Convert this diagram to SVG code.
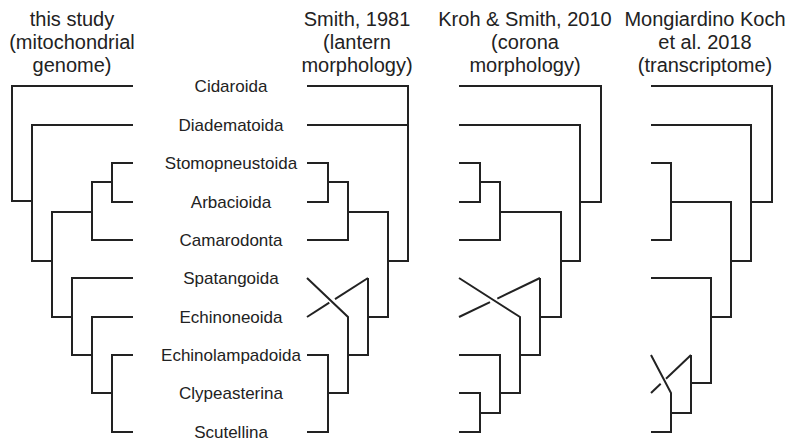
<svg xmlns="http://www.w3.org/2000/svg" width="800" height="448" viewBox="0 0 800 448">
<style>
.h{font-family:"Liberation Sans",Arial,sans-serif;font-size:20px;fill:#222;text-anchor:middle}
.t{font-family:"Liberation Sans",Arial,sans-serif;font-size:17px;fill:#222;text-anchor:middle}
.e{fill:none;stroke:#222;stroke-width:2;stroke-linejoin:miter;stroke-linecap:butt}
</style>
<rect width="800" height="448" fill="#fff"/>
<g id="headers">
<g id="h-this-study"><text class="h" x="72" y="26">this study</text><text class="h" x="72" y="49">(mitochondrial</text><text class="h" x="72" y="72">genome)</text></g>
<g id="h-smith"><text class="h" x="357" y="26">Smith, 1981</text><text class="h" x="357" y="49">(lantern</text><text class="h" x="357" y="72">morphology)</text></g>
<g id="h-kroh"><text class="h" x="525" y="26">Kroh &amp; Smith, 2010</text><text class="h" x="525" y="49">(corona</text><text class="h" x="525" y="72">morphology)</text></g>
<g id="h-mongiardino"><text class="h" x="705" y="26">Mongiardino Koch</text><text class="h" x="705" y="49">et al. 2018</text><text class="h" x="705" y="72">(transcriptome)</text></g>
</g>
<g id="n-cidaroida"><text class="t" x="231" y="92">Cidaroida</text></g>
<g id="n-diadematoida"><text class="t" x="231" y="131">Diadematoida</text></g>
<g id="n-stomopneustoida"><text class="t" x="231" y="169">Stomopneustoida</text></g>
<g id="n-arbacioida"><text class="t" x="231" y="208">Arbacioida</text></g>
<g id="n-camarodonta"><text class="t" x="231" y="246">Camarodonta</text></g>
<g id="n-spatangoida"><text class="t" x="231" y="284">Spatangoida</text></g>
<g id="n-echinoneoida"><text class="t" x="231" y="323">Echinoneoida</text></g>
<g id="n-echinolampadoida"><text class="t" x="231" y="361">Echinolampadoida</text></g>
<g id="n-clypeasterina"><text class="t" x="231" y="399">Clypeasterina</text></g>
<g id="n-scutellina"><text class="t" x="231" y="438">Scutellina</text></g>
<g id="connectors">
<g id="tree-mito" class="e">
<path d="M133,86 H12 V201 H32"/>
<path d="M133,125 H32 V261 H52"/>
<path d="M92,212 H52 V317 H72"/>
<path d="M133,163 H112 V202 H133"/>
<path d="M112,182 H92 V240 H133"/>
<path d="M133,278 H72 V355 H92"/>
<path d="M133,317 H92 V393 H112"/>
<path d="M133,355 H112 V432 H133"/>
</g>
<g id="tree-smith" class="e">
<path d="M307,86 H408 V261 H388"/>
<path d="M307,125 H408"/>
<path d="M307,163 H328 V202 H307"/>
<path d="M328,182 H348 V240 H307"/>
<path d="M348,212 H388 V317 H368"/>
<path d="M368,278 V355 H348"/>
<path d="M307,278 L348,317 V393 H328"/>
<path d="M307,355 H328 V432 H307"/>
<path d="M368,278 L335,299.1"/>
<path d="M329.3,302.7 L307,317"/>
</g>
<g id="tree-kroh" class="e">
<path d="M459,86 H601 V202 H580"/>
<path d="M459,125 H580 V261 H561"/>
<path d="M500,212 H561 V317 H540"/>
<path d="M459,163 H480 V202 H459"/>
<path d="M480,182 H500 V240 H459"/>
<path d="M540,278 V355 H520"/>
<path d="M459,278 L520,317 V393 H500"/>
<path d="M459,355 H500 V413 H480"/>
<path d="M459,393 H480 V432 H459"/>
<path d="M540,278 L497.3,298.6"/>
<path d="M490,302.1 L459,317"/>
</g>
<g id="tree-mongiardino" class="e">
<path d="M651,86 H772 V202 H751"/>
<path d="M651,125 H751 V261 H731"/>
<path d="M671,202 H731 V317 H711"/>
<path d="M651,163 H671 V240 H651"/>
<path d="M651,278 H711 V383 H691"/>
<path d="M691,355 V413 H671"/>
<path d="M651,355 L671,393 V432 H651"/>
<path d="M691,355 L666,378.8"/>
<path d="M660.7,383.8 L651,393"/>
</g>
</g>
</svg>
